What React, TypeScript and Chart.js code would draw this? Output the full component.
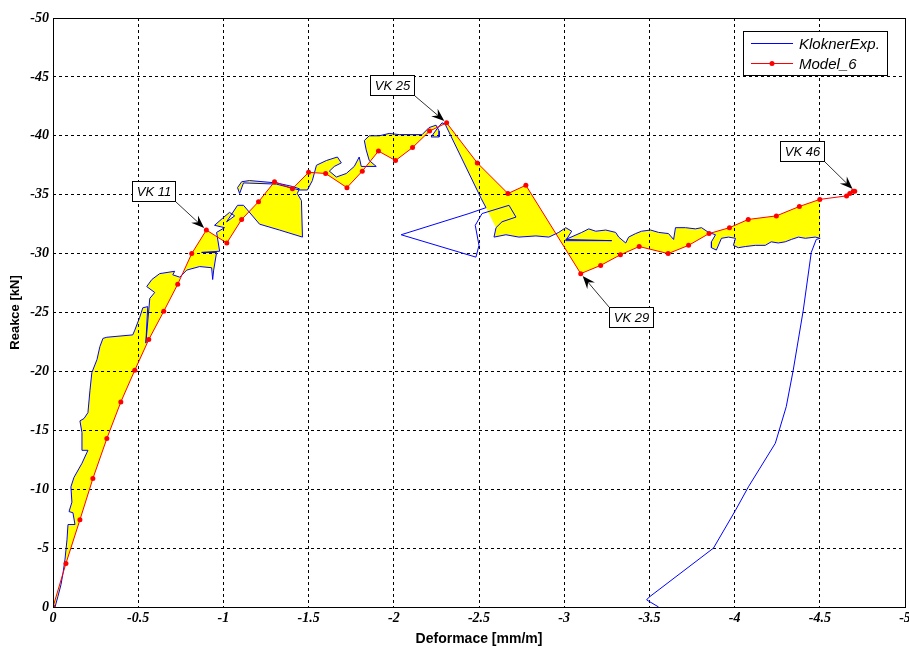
import React, { useEffect, useRef } from 'react';
import { Chart, registerables } from 'chart.js';

Chart.register(...registerables);

// Tick labels
const xTicks = [0, -0.5, -1, -1.5, -2, -2.5, -3, -3.5, -4, -4.5, -5];
const yTicks = [0, -5, -10, -15, -20, -25, -30, -35, -40, -45, -50];

// KloknerExp. – experiment, loading part up to just after the peak
const kloknerRise: [number, number][] = [
  [-0.012, 0], [-0.029, -0.9], [-0.047, -1.9], [-0.059, -2.9], [-0.07, -4.0], [-0.082, -5.7],
  [-0.088, -7.0], [-0.129, -7.0], [-0.117, -8.0], [-0.094, -8.1], [-0.111, -8.9], [-0.105, -10.2],
  [-0.123, -11.0], [-0.17, -12.2], [-0.205, -13.3], [-0.17, -13.3], [-0.17, -14.8], [-0.158, -15.8],
  [-0.182, -16.0], [-0.205, -16.5], [-0.217, -18.4], [-0.228, -19.9], [-0.258, -21.0], [-0.275, -22.1],
  [-0.293, -22.8], [-0.316, -22.9], [-0.468, -23.1], [-0.48, -23.5], [-0.509, -24.6], [-0.527, -25.4],
  [-0.556, -25.5], [-0.545, -22.4], [-0.568, -26.2], [-0.597, -26.7], [-0.55, -27.2], [-0.58, -27.8],
  [-0.626, -28.3], [-0.714, -28.5], [-0.703, -28.2], [-0.744, -28.0], [-0.785, -28.6], [-0.861, -28.9],
  [-0.931, -28.8], [-0.937, -27.8], [-0.943, -28.6], [-0.96, -30.1], [-0.872, -30.1], [-0.978, -30.2],
  [-0.96, -31.8], [-1.007, -32.2], [-0.948, -32.4], [-0.995, -33.0], [-1.036, -33.5], [-1.066, -33.2],
  [-1.019, -32.7], [-1.083, -34.1], [-1.118, -34.1], [-1.212, -32.5], [-1.329, -32.0], [-1.464, -31.4],
  [-1.458, -34.5], [-1.434, -35.1], [-1.446, -35.5], [-1.405, -35.7], [-1.311, -36.0], [-1.153, -36.2],
  [-1.107, -36.1], [-1.083, -35.6], [-1.095, -35.1], [-1.118, -36.0], [-1.311, -35.9], [-1.446, -35.4],
  [-1.493, -35.4], [-1.522, -36.2], [-1.546, -37.5], [-1.604, -37.9], [-1.669, -38.2], [-1.692, -37.7],
  [-1.651, -37.4], [-1.622, -37.0], [-1.663, -36.5], [-1.721, -36.8], [-1.768, -37.4], [-1.797, -38.2],
  [-1.809, -37.4], [-1.897, -37.4], [-1.856, -37.9], [-1.838, -38.8], [-1.827, -39.6], [-1.856, -40.0],
  [-1.915, -40.0], [-1.973, -40.2], [-2.032, -40.1], [-2.166, -40.1], [-2.207, -40.7], [-2.248, -40.9],
  [-2.266, -40.4], [-2.266, -39.9], [-2.219, -39.9], [-2.254, -40.6], [-2.283, -41.1], [-2.301, -41.0],
  [-2.512, -34.7], [-2.541, -33.9],
];

// KloknerExp. – excursion after the peak (triangular loop and knot)
const kloknerLoop: [number, number][] = [
  [-2.441, -33.4], [-2.043, -31.6], [-2.482, -29.7], [-2.5, -30.7], [-2.478, -32.4], [-2.518, -33.4],
  [-2.676, -34.1], [-2.717, -33.1], [-2.635, -32.7],
];

// KloknerExp. – softening plateau
const kloknerPlateau: [number, number][] = [
  [-2.6, -32.2], [-2.588, -31.4], [-2.658, -31.6], [-2.734, -31.4], [-2.834, -31.5], [-2.91, -31.4],
  [-2.968, -31.8], [-3.009, -32.2], [-3.044, -31.9], [-3.009, -31.1], [-3.279, -31.1], [-3.009, -31.2],
  [-3.103, -31.8], [-3.144, -32.1], [-3.185, -31.9], [-3.244, -32.0], [-3.302, -31.8], [-3.32, -31.4],
  [-3.361, -30.9], [-3.378, -31.4], [-3.419, -31.7], [-3.454, -31.9], [-3.507, -32.0], [-3.554, -31.8],
  [-3.612, -31.7], [-3.642, -31.2], [-3.653, -32.2], [-3.712, -32.2], [-3.77, -32.1], [-3.806, -32.2],
  [-3.847, -31.8], [-3.888, -31.6], [-3.864, -31.0], [-3.864, -30.5], [-3.893, -30.3], [-3.923, -31.3],
  [-3.964, -31.4], [-4.005, -31.3], [-3.993, -30.7], [-4.022, -30.5], [-4.063, -30.6], [-4.122, -30.7],
  [-4.18, -30.7], [-4.215, -31.0], [-4.256, -30.9], [-4.297, -31.0], [-4.333, -31.2], [-4.374, -31.4],
  [-4.415, -31.3], [-4.473, -31.4], [-4.502, -31.3],
];

// KloknerExp. – unloading branch
const kloknerUnload: [number, number][] = [
  [-4.479, -31.2], [-4.45, -30.1], [-4.403, -25.2], [-4.344, -20.1], [-4.303, -17.0], [-4.239, -13.9],
  [-4.081, -10.2], [-4.005, -8.2], [-3.876, -5.0], [-3.495, -0.8], [-3.484, -0.6], [-3.554, 0],
];

// Model_6 – numerical model
const model6: [number, number][] = [
  [0, 0], [-0.076, -3.7], [-0.158, -7.4], [-0.234, -10.9], [-0.316, -14.3], [-0.398, -17.4],
  [-0.48, -20.1], [-0.562, -22.7], [-0.65, -25.1], [-0.732, -27.4], [-0.814, -30.0], [-0.9, -32.0],
  [-1.02, -30.9], [-1.107, -32.9], [-1.206, -34.4], [-1.3, -36.1], [-1.405, -35.5], [-1.5, -36.9],
  [-1.6, -36.8], [-1.725, -35.6], [-1.815, -37.0], [-1.91, -38.7], [-2.01, -37.9], [-2.11, -39.0],
  [-2.21, -40.4], [-2.31, -41.1], [-2.49, -37.7], [-2.67, -35.1], [-2.775, -35.8], [-3.097, -28.3],
  [-3.214, -29.0], [-3.33, -29.9], [-3.44, -30.6], [-3.61, -30.0], [-3.73, -30.7], [-3.85, -31.7],
  [-3.97, -32.2], [-4.08, -32.9], [-4.245, -33.2], [-4.38, -34.0], [-4.5, -34.6], [-4.657, -34.9],
  [-4.676, -35.1], [-4.696, -35.3], [-4.705, -35.3],
];

// Labels of selected model steps
const vkLabels = ['VK 11', 'VK 25', 'VK 29', 'VK 46'];
const vkIndex = [11, 25, 29, 44];

const legendLabels = ['KloknerExp.', 'Model_6'];

const BLUE = '#0000ff';
const RED = '#ff0000';
const TICK_FONT = { family: '"Liberation Serif", "Times New Roman", serif', size: 14, style: 'italic' as const, weight: 'bold' as const };
const SANS = '"Liberation Sans", Arial, sans-serif';

const toXY = (arr: [number, number][]) => arr.map(([x, y]) => ({ x, y }));

const fillPlugin = {
  id: 'bandFill',
  beforeDraw(chart: any) {
    const { ctx, chartArea, scales } = chart;
    const xs = scales.x, ys = scales.y;
    const endX = kloknerPlateau[kloknerPlateau.length - 1][0];
    const modelPart = model6.filter(([x]) => x >= endX - 0.01).slice().reverse();
    const poly = [...kloknerRise, ...kloknerPlateau, ...modelPart];
    ctx.save();
    ctx.beginPath();
    ctx.rect(chartArea.left, chartArea.top, chartArea.width, chartArea.height);
    ctx.clip();
    ctx.beginPath();
    poly.forEach(([vx, vy], i) => {
      const px = xs.getPixelForValue(vx);
      const py = ys.getPixelForValue(vy);
      if (i === 0) ctx.moveTo(px, py); else ctx.lineTo(px, py);
    });
    ctx.closePath();
    ctx.fillStyle = '#ffff00';
    ctx.fill('evenodd');
    ctx.restore();
  },
};

const framePlugin = {
  id: 'frame',
  afterDatasetsDraw(chart: any) {
    const { ctx, chartArea } = chart;
    ctx.save();
    ctx.strokeStyle = '#000';
    ctx.lineWidth = 1;
    ctx.setLineDash([]);
    const l = Math.round(chartArea.left) + 0.5;
    const t = Math.round(chartArea.top) + 0.5;
    const r = Math.round(chartArea.right) + 0.5;
    const b = Math.round(chartArea.bottom) + 0.5;
    ctx.strokeRect(l, t, r - l, b - t);
    ctx.restore();
  },
};

const notesPlugin = {
  id: 'vkNotes',
  afterDraw(chart: any) {
    const { ctx, scales } = chart;
    const xs = scales.x, ys = scales.y;
    const offsets = [[-52, -39], [-54, -37], [51, 44], [-52, -40]];
    ctx.save();
    ctx.font = `italic 13px ${SANS}`;
    vkLabels.forEach((text, k) => {
      const [vx, vy] = model6[vkIndex[k]];
      const px = xs.getPixelForValue(vx);
      const py = ys.getPixelForValue(vy);
      const [dx, dy] = offsets[k];
      const tw = ctx.measureText(text).width;
      const w = Math.round(tw + 10), h = 21;
      const left = Math.round(px + dx - w / 2);
      const top = Math.round(py + dy - h / 2);
      const sx = dx < 0 ? left + w : left;
      const sy = dy < 0 ? top + h : top;
      const ang = Math.atan2(py - sy, px - sx);
      const c = Math.cos(ang), s = Math.sin(ang);
      const tx = px - 3 * c, ty = py - 3 * s;
      ctx.strokeStyle = '#333';
      ctx.lineWidth = 1;
      ctx.beginPath();
      ctx.moveTo(sx, sy);
      ctx.lineTo(tx - 8 * c, ty - 8 * s);
      ctx.stroke();
      const L = 13, W = 5;
      ctx.fillStyle = '#000';
      ctx.beginPath();
      ctx.moveTo(tx, ty);
      ctx.lineTo(tx - L * c - W * s, ty - L * s + W * c);
      ctx.lineTo(tx - 0.65 * L * c, ty - 0.65 * L * s);
      ctx.lineTo(tx - L * c + W * s, ty - L * s - W * c);
      ctx.closePath();
      ctx.fill();
      ctx.fillStyle = '#fff';
      ctx.fillRect(left, top, w, h);
      ctx.strokeStyle = '#000';
      ctx.strokeRect(left + 0.5, top + 0.5, w - 1, h - 1);
      ctx.fillStyle = '#000';
      ctx.textAlign = 'center';
      ctx.textBaseline = 'middle';
      ctx.fillText(text, left + w / 2, top + h / 2 + 0.5);
    });
    ctx.restore();
  },
};

const legendPlugin = {
  id: 'matLegend',
  afterDraw(chart: any) {
    const { ctx, chartArea } = chart;
    const bw = 145, bh = 45;
    const bx = Math.round(chartArea.right) - 162;
    const by = Math.round(chartArea.top) + 13;
    ctx.save();
    ctx.fillStyle = '#fff';
    ctx.fillRect(bx, by, bw, bh);
    ctx.strokeStyle = '#000';
    ctx.lineWidth = 1;
    ctx.strokeRect(bx + 0.5, by + 0.5, bw - 1, bh - 1);
    const rows = [by + 12.5, by + 32.5];
    const colors = [BLUE, RED];
    ctx.font = `italic 15px ${SANS}`;
    ctx.textAlign = 'left';
    ctx.textBaseline = 'middle';
    legendLabels.forEach((lab, i) => {
      ctx.strokeStyle = colors[i];
      ctx.lineWidth = 1;
      ctx.beginPath();
      ctx.moveTo(bx + 8, rows[i]);
      ctx.lineTo(bx + 50, rows[i]);
      ctx.stroke();
      if (i === 1) {
        ctx.fillStyle = RED;
        ctx.beginPath();
        ctx.arc(bx + 29, rows[i], 2.5, 0, Math.PI * 2);
        ctx.fill();
      }
      ctx.fillStyle = '#000';
      ctx.fillText(lab, bx + 56, rows[i] + 1);
    });
    ctx.restore();
  },
};

export default function App() {
  const ref = useRef<HTMLCanvasElement | null>(null);

  useEffect(() => {
    if (!ref.current) return;
    const chart = new Chart(ref.current, {
      type: 'scatter',
      data: {
        datasets: [
          {
            label: legendLabels[1],
            data: toXY(model6),
            showLine: true,
            borderColor: RED,
            borderWidth: 1,
            pointRadius: 2.5,
            pointBackgroundColor: RED,
            pointBorderWidth: 0,
            fill: false,
          },
          {
            label: legendLabels[0],
            data: toXY([...kloknerRise, ...kloknerLoop, ...kloknerPlateau, ...kloknerUnload]),
            showLine: true,
            borderColor: BLUE,
            borderWidth: 1,
            pointRadius: 0,
            fill: false,
          },
        ],
      },
      options: {
        responsive: false,
        animation: false,
        events: [],
        layout: { padding: { top: 18, right: 2, left: 0, bottom: 0 } },
        plugins: { legend: { display: false }, tooltip: { enabled: false } },
        scales: {
          x: {
            type: 'linear',
            min: -5,
            max: 0,
            reverse: true,
            afterBuildTicks: (s: any) => { s.ticks = xTicks.map((v) => ({ value: v })); },
            afterFit: (s: any) => { s.height = 41; s.paddingLeft = 0; s.paddingRight = 0; },
            ticks: { callback: (v: any) => String(v), font: TICK_FONT, color: '#000', padding: 3, maxRotation: 0, autoSkip: false },
            grid: { color: '#000', lineWidth: 1, drawTicks: false },
            border: { display: false, dash: [3, 3] },
            title: { display: true, text: 'Deformace [mm/m]', font: { family: SANS, size: 14, weight: 'bold' }, color: '#000', padding: 0 },
          },
          y: {
            type: 'linear',
            min: -50,
            max: 0,
            reverse: true,
            afterBuildTicks: (s: any) => { s.ticks = yTicks.map((v) => ({ value: v })); },
            afterFit: (s: any) => { s.width = 53; s.paddingTop = 0; s.paddingBottom = 0; },
            ticks: { callback: (v: any) => String(v), font: TICK_FONT, color: '#000', padding: 4, autoSkip: false },
            grid: { color: '#000', lineWidth: 1, drawTicks: false },
            border: { display: false, dash: [3, 3] },
            title: { display: true, text: 'Reakce [kN]', font: { family: SANS, size: 13, weight: 'bold' }, color: '#000', padding: { top: 8, bottom: 0 } },
          },
        },
      },
      plugins: [fillPlugin, framePlugin, notesPlugin, legendPlugin],
    } as any);
    return () => chart.destroy();
  }, []);

  return (
    <div style={{ position: 'absolute', left: 0, top: 0, width: 909, height: 648, background: '#fff' }}>
      <canvas ref={ref} width={909} height={648} style={{ display: 'block' }} />
    </div>
  );
}
